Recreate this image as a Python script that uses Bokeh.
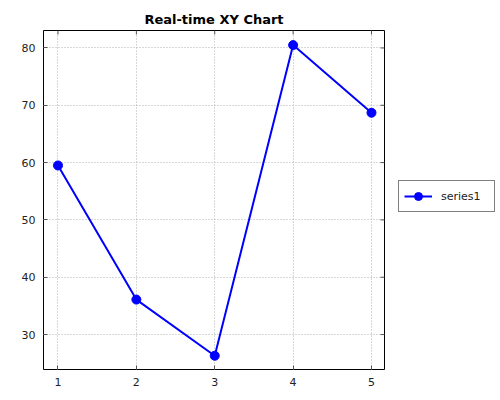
from bokeh.plotting import figure
from bokeh.models import Legend, LegendItem, Range1d, FixedTicker
from bokeh.embed import file_html
from bokeh.resources import INLINE
import math

x = [1, 2, 3, 4, 5]
series1 = [59.5, 36.1, 26.3, 80.5, 68.7]
x_ticks = [1, 2, 3, 4, 5]
y_ticks = [30, 40, 50, 60, 70, 80]

FONT = "DejaVu Sans"

xr = Range1d(0.815, 5.166)
yr = Range1d(23.9, 83.05)

p = figure(frame_width=341, frame_height=339, output_backend="svg",
           toolbar_location=None, title="Real-time XY Chart",
           x_range=xr, y_range=yr,
           min_border_left=43, min_border_top=30, min_border_bottom=0,
           min_border_right=114)

p.title.align = "center"
p.title.text_font = FONT
p.title.text_font_size = "13px"
p.title.text_font_style = "bold"
p.title.text_color = "black"
p.title.offset = 0
p.title.standoff = 8

p.outline_line_color = "black"
p.outline_line_width = 1
p.outline_line_alpha = 1

for ax, ticks in ((p.xaxis[0], x_ticks), (p.yaxis[0], y_ticks)):
    ax.ticker = FixedTicker(ticks=ticks)
    ax.axis_line_color = None
    ax.major_tick_in = 4
    ax.major_tick_out = 0
    ax.minor_tick_line_color = None
    ax.major_tick_line_color = "#555555"
    ax.major_label_text_font = FONT
    ax.major_label_text_font_size = "11px"
    ax.major_label_text_color = "#222222"
    ax.major_label_standoff = 8

p.xgrid.ticker = FixedTicker(ticks=x_ticks)
p.ygrid.ticker = FixedTicker(ticks=y_ticks)
for g in (p.xgrid, p.ygrid):
    g.grid_line_color = "#b0b0b0"
    g.grid_line_dash = "1 2"
    g.grid_line_width = 1

# mirror ticks on the right and top edges (half of each dash is clipped away)
p.scatter([xr.end] * len(y_ticks), y_ticks, marker="dash", size=8,
          line_color="#555555", line_width=1)
p.scatter(x_ticks, [yr.end] * len(x_ticks), marker="dash", size=8,
          angle=math.pi / 2, line_color="#555555", line_width=1)

ln = p.line(x, series1, line_color="blue", line_width=2)
pts = p.scatter(x, series1, size=9, fill_color="blue", line_color="blue")

legend = Legend(items=[LegendItem(label="series1", renderers=[ln, pts])],
                location=(14, 157), margin=0, padding=5, spacing=0,
                glyph_width=28, label_width=48, label_text_font=FONT,
                label_text_font_size="11px", label_text_color="#222222",
                border_line_color="black", border_line_width=1,
                label_standoff=9)
p.add_layout(legend, "right")

open("out.html", "w").write(file_html(p, INLINE))
